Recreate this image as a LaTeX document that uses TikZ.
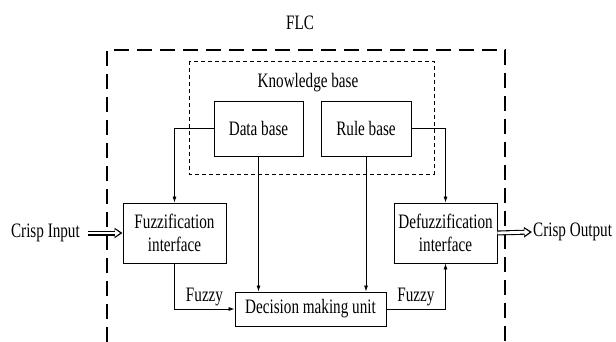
\documentclass[tikz,border=0pt]{standalone}
\usepackage{fontspec}
\setmainfont{Liberation Serif}[FakeStretch=0.74]
\usetikzlibrary{arrows.meta}

\begin{document}
\begin{tikzpicture}[x=1pt, y=-1pt,
        font=\fontsize{20.5}{23}\selectfont,
        box/.style={draw, line width=0.9pt, align=center, inner sep=2pt},
        lbl/.style={inner sep=1pt},
        link/.style={line width=0.8pt, -{Latex[length=6pt,width=4pt]}},
        flow/.style={line width=5pt, -{Triangle[length=8pt, width=10pt]},
                            postaction={draw=white, line width=2.8pt, shorten >=2.5pt,
                            -{Triangle[length=5pt, width=6.5pt]}}}]
                \useasboundingbox (0,0) rectangle (616,342);

                % outer controller frame (open at the bottom)
                \draw[line width=2pt, dash pattern=on 15pt off 8pt]
                        (107,342) -- (107,50) -- (505,50) -- (505,342);
                \node[lbl] (flc) at (300,23) {FLC};

                % knowledge base
                \draw[line width=0.9pt, dash pattern=on 4pt off 3pt]
                        (189,61) rectangle (434,174);
                \node[lbl] (kb) at (308,83) {Knowledge base};
                \node[box, minimum width=89pt, minimum height=55pt] (db)
                        at (258.5,128.5) {Data base};
                \node[box, minimum width=90pt, minimum height=55pt] (rb)
                        at (366,128.5) {Rule base};

                \node[box, minimum width=103pt, minimum height=60pt] (fz)
                        at (174.5,233) {Fuzzification\\interface};
                \node[box, minimum width=103pt, minimum height=60pt] (dfz)
                        at (445.5,233) {Defuzzification\\interface};
                \node[box, minimum width=151pt, minimum height=34pt] (dm)
                        at (310.5,309) {Decision making unit};

                \node[lbl, anchor=east] (in)  at (81,233)  {Crisp Input};
                \node[lbl, anchor=west] (out) at (532,232) {Crisp Output};

                \draw[link] (db.west) -| (fz.north);
                \draw[link] (rb.east) -| (dfz.north);
                \draw[link] (db.south) -- (db.south |- dm.north);
                \draw[link] (rb.south) -- (rb.south |- dm.north);
                \draw[link] (fz.south) |- node[pos=0.75, above, inner sep=3pt] {Fuzzy} (dm.west);
                \draw[link] (dm.east) -| node[pos=0.25, above, inner sep=3pt] {Fuzzy} (dfz.south);

                \draw[flow, shorten <=7pt] (in.east) -- (fz.west);
                \draw[flow] (dfz.east) -- (out.west);
            \end{tikzpicture}
\end{document}
